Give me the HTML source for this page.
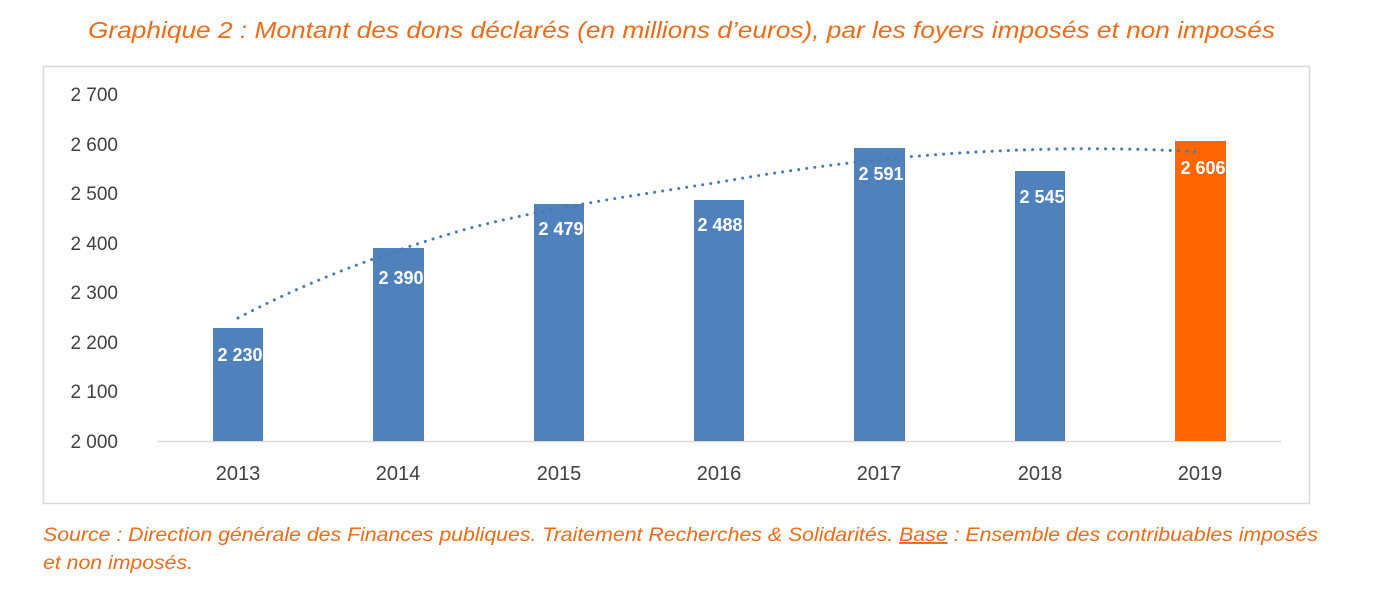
<!DOCTYPE html>
<html><head><meta charset="utf-8"><style>
body{margin:0;background:#fff;width:1377px;height:586px;overflow:hidden;font-family:"Liberation Sans",sans-serif}
</style></head><body>
<svg width="1377" height="586" xmlns="http://www.w3.org/2000/svg" font-family="Liberation Sans, sans-serif">
<text x="88" y="38" font-size="23" font-style="italic" fill="#ee6b1a" textLength="1187" lengthAdjust="spacingAndGlyphs">Graphique 2 : Montant des dons déclarés (en millions d’euros), par les foyers imposés et non imposés</text>
<rect x="43.5" y="66.5" width="1266" height="437" fill="#fff" stroke="#d9d9d9" stroke-width="1.5"/>
<g font-size="19" fill="#404040" text-anchor="end">
<text x="118" y="101">2 700</text><text x="118" y="151">2 600</text><text x="118" y="200">2 500</text><text x="118" y="250">2 400</text><text x="118" y="299">2 300</text><text x="118" y="349">2 200</text><text x="118" y="398">2 100</text><text x="118" y="448">2 000</text>
</g>
<line x1="158" y1="441.5" x2="1281" y2="441.5" stroke="#d9d9d9" stroke-width="1.5"/>
<g fill="#4f81bd">
<rect x="213" y="328" width="50" height="113"/>
<rect x="373" y="248" width="51" height="193"/>
<rect x="534" y="204" width="50" height="237"/>
<rect x="694" y="200" width="50" height="241"/>
<rect x="854" y="148" width="51" height="293"/>
<rect x="1015" y="171" width="50" height="270"/>
</g>
<rect x="1175" y="141" width="51" height="300" fill="#ff6600"/>
<path d="M238 318 C320 275,400 248,470 228 C560 205,640 195,720 182 C800 168,880 158,960 153 C1040 148,1120 147,1200 152" fill="none" stroke="#4a7ab5" stroke-width="3" stroke-dasharray="0.1 8" stroke-linecap="round"/>
<g font-size="18" font-weight="bold" fill="#fff" text-anchor="middle">
<text x="240" y="361">2 230</text><text x="401" y="284">2 390</text><text x="561" y="235">2 479</text><text x="720" y="231">2 488</text><text x="881" y="180">2 591</text><text x="1042" y="203">2 545</text><text x="1203" y="174">2 606</text>
</g>
<g font-size="20" fill="#404040" text-anchor="middle">
<text x="238" y="480">2013</text><text x="398" y="480">2014</text><text x="559" y="480">2015</text><text x="719" y="480">2016</text><text x="879" y="480">2017</text><text x="1040" y="480">2018</text><text x="1200" y="480">2019</text>
</g>
<g font-size="19.5" font-style="italic" fill="#ee6b1a">
<text x="43" y="541" textLength="1275" lengthAdjust="spacingAndGlyphs">Source : Direction générale des Finances publiques. Traitement Recherches &amp; Solidarités. <tspan text-decoration="underline">Base</tspan> : Ensemble des contribuables imposés</text>
<text x="43" y="569" textLength="150" lengthAdjust="spacingAndGlyphs">et non imposés.</text>
</g>
</svg>
</body></html>
